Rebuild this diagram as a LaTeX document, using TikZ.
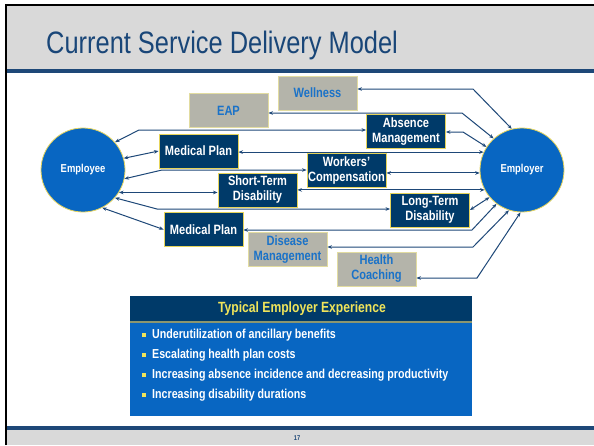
\documentclass[tikz,border=0pt]{standalone}
\usepackage{fontspec}
\setmainfont{Liberation Sans}[FakeStretch=0.82]
\usetikzlibrary{arrows.meta}
\definecolor{navy}{RGB}{0,58,105}
\definecolor{hdrgray}{RGB}{217,217,217}
\definecolor{boxgray}{RGB}{180,180,170}
\definecolor{boxedge}{RGB}{230,212,90}
\definecolor{grayedge}{RGB}{226,220,160}
\definecolor{lineblue}{RGB}{30,72,120}
\definecolor{circblue}{RGB}{8,102,194}
\definecolor{txtblue}{RGB}{26,114,200}
\definecolor{titleblue}{RGB}{25,70,120}
\definecolor{yel}{RGB}{240,228,90}
\definecolor{rulegreen}{RGB}{140,150,110}
\tikzset{
  navybox/.style={draw=boxedge, line width=0.9pt, fill=navy, text=white,
    minimum width=79pt, minimum height=34pt, inner sep=0pt, align=center,
    font=\fontsize{13.5}{15}\selectfont\bfseries},
  graybox/.style={draw=grayedge, line width=0.9pt, fill=boxgray, text=txtblue,
    minimum width=79pt, minimum height=34pt, inner sep=0pt, align=center,
    font=\fontsize{13.5}{15}\selectfont\bfseries},
  party/.style={circle, draw=boxedge, line width=0.8pt, fill=circblue, text=white,
    minimum size=84pt, inner sep=0pt, font=\fontsize{11.5}{13}\selectfont\bfseries},
  conn/.style={draw=lineblue, line width=1pt,
    {Stealth[length=4.5pt,width=3.6pt]}-{Stealth[length=4.5pt,width=3.6pt]}},
  bullet/.style={anchor=west, text=white, inner sep=0pt,
    font=\fontsize{13}{14}\selectfont\bfseries},
  sq/.style={fill=yel, minimum size=4pt, inner sep=0pt}
}
\begin{document}
\begin{tikzpicture}[x=1pt,y=-1pt]
\useasboundingbox (0,0) rectangle (594,445);
% frame
\fill[white] (0,0) rectangle (594,445);
\fill[hdrgray] (6,6) rectangle (594,69);
\fill[lineblue] (6,69) rectangle (594,73);
\fill[hdrgray] (6,430) rectangle (594,445);
\fill[lineblue] (6,426) rectangle (594,430);
\draw[black, line width=2pt] (6,445) -- (6,5) -- (594,5);
\node[anchor=west, text=titleblue, inner sep=0pt,
  font=\fontsize{31}{35}\selectfont] (title) at (46,45) {Current Service Delivery Model};
\node[text=lineblue, font=\fontsize{7}{8}\selectfont\bfseries, inner sep=0pt] (pg) at (297,438) {17};

% parties
\node[party] (emp) at (83,170) {Employee};
\node[party] (emr) at (522,170) {Employer};

% services
\node[graybox] (wel) at (317.5,93) {Wellness};
\node[graybox] (eap) at (228.5,110.5) {EAP};
\node[navybox] (abs) at (406,131.5) {Absence\\Management};
\node[navybox] (mp1) at (198.5,151) {Medical Plan};
\node[navybox] (wc) at (346.5,170.5) {Workers'\\Compensation};
\node[navybox] (std) at (257.5,190) {Short-Term\\Disability};
\node[navybox] (ltd) at (430,210) {Long-Term\\Disability};
\node[navybox] (mp2) at (203.5,229.5) {Medical Plan};
\node[graybox] (dis) at (287.5,249.5) {Disease\\Management};
\node[graybox] (hc) at (376.5,269) {Health\\Coaching};

% employer side connectors
\coordinate (c1) at (473,89);
\draw[conn] (wel.east |- c1) -- (c1) -- (emr.104);
\coordinate (c2) at (462,113);
\draw[conn] (eap.east |- c2) -- (c2) -- (emr.132);
\coordinate (c3) at (463,132);
\draw[conn] (abs.east |- c3) -- (c3) -- (emr.147);
\draw[conn] (mp1.east |- emr.155) -- (emr.155);
\draw[conn] (wc.east |- emr.184) -- (emr.184);
\draw[conn] (std.east |- emr.208) -- (emr.208);
\draw[conn] (ltd.east) -- (emr.220);
\coordinate (c8) at (472,230);
\draw[conn] (mp2.east |- c8) -- (c8) -- (emr.233);
\coordinate (c9) at (473,247);
\draw[conn] (dis.east |- c9) -- (c9) -- (emr.252);
\coordinate (c10) at (477,278);
\draw[conn] (hc.east |- c10) -- (c10) -- (emr.268);

% employee side connectors
\coordinate (d1) at (139,130);
\draw[conn] (emp.41) -- (d1) -- (abs.west |- d1);
\draw[conn] (emp.16) -- (mp1.west);
\coordinate (d3) at (162,170);
\draw[conn] (emp.348) -- (d3) -- (wc.west |- d3);
\draw[conn] (emp.328) -- (std.west |- emp.328);
\coordinate (d5) at (157,209);
\draw[conn] (emp.319) -- (d5) -- (ltd.west |- d5);
\draw[conn] (emp.297) -- (mp2.west);

% experience panel
\fill[circblue] (130,323) rectangle (472,416);
\fill[navy] (130,296) rectangle (472,321);
\fill[rulegreen] (130,321) rectangle (472,323);
\node[text=yel, font=\fontsize{14.8}{16}\selectfont\bfseries, inner sep=0pt] (ptitle) at (302,309) {Typical Employer Experience};
\node[sq] (s1) at (144,335) {};
\node[bullet] (b1) at (152,335) {Underutilization of ancillary benefits};
\node[sq] (s2) at (144,355) {};
\node[bullet] (b2) at (152,355) {Escalating health plan costs};
\node[sq] (s3) at (144,375) {};
\node[bullet] (b3) at (152,375) {Increasing absence incidence and decreasing productivity};
\node[sq] (s4) at (144,395) {};
\node[bullet] (b4) at (152,395) {Increasing disability durations};
\end{tikzpicture}
\end{document}
